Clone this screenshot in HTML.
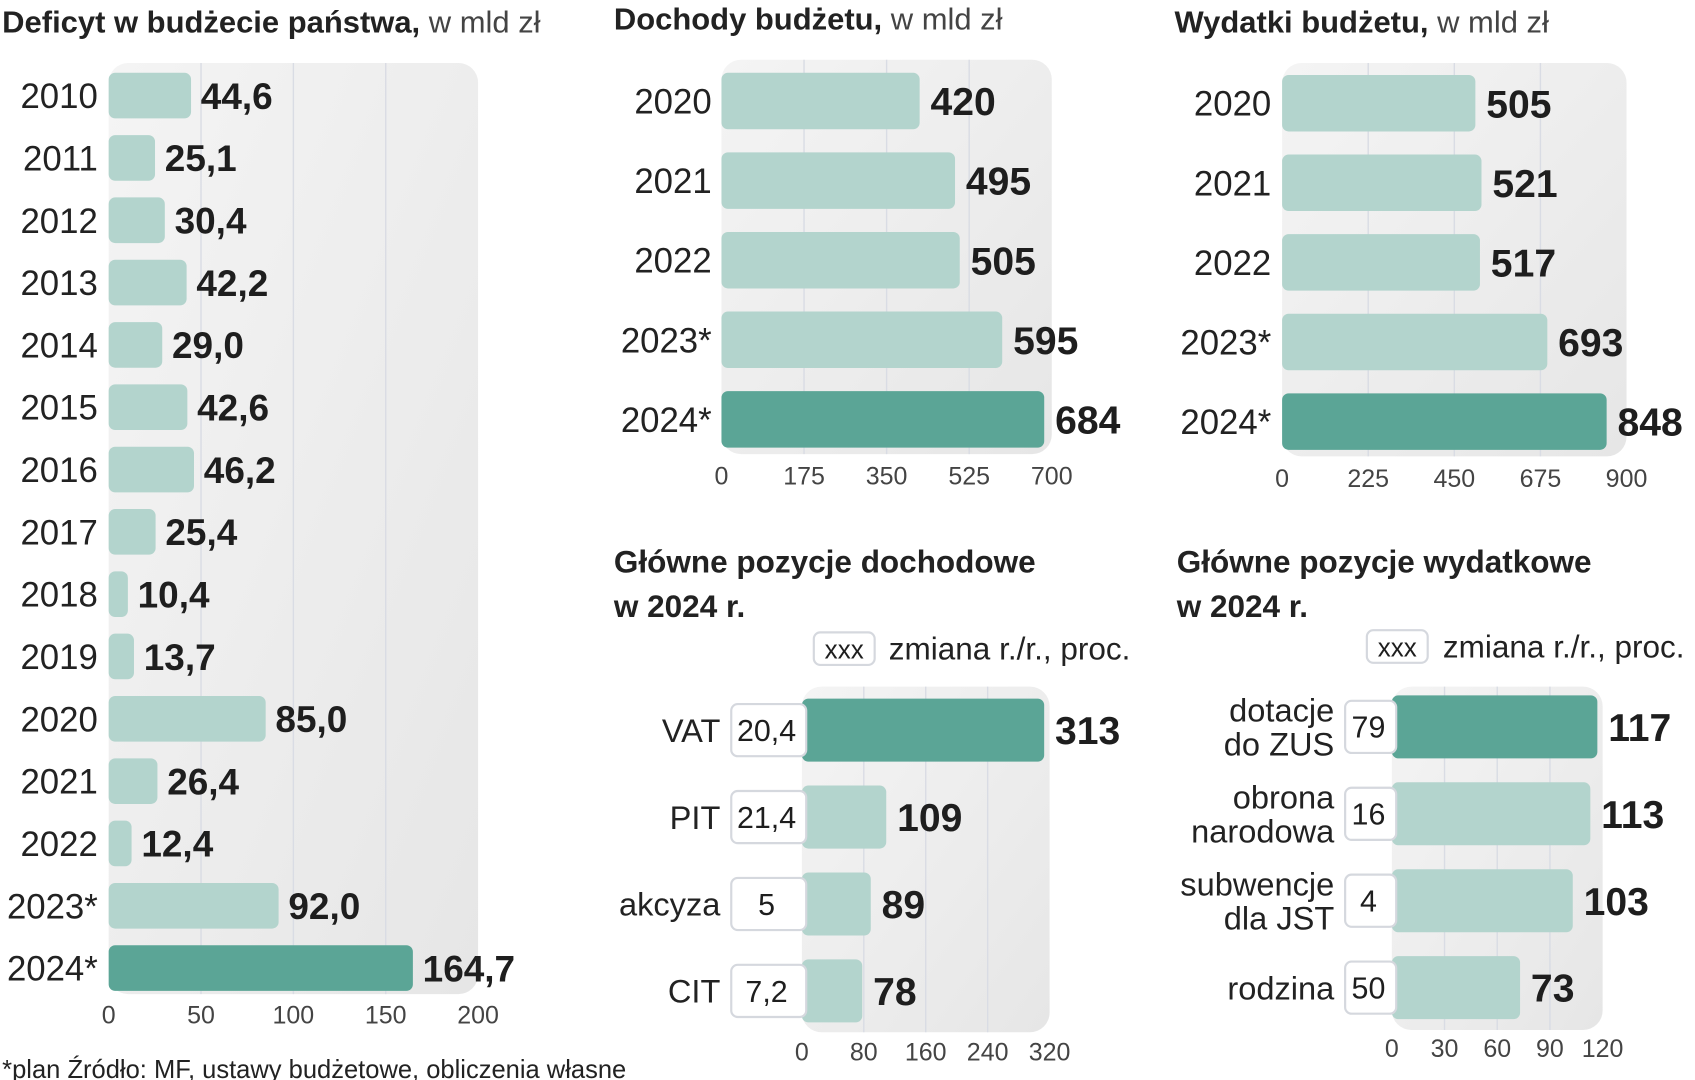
<!DOCTYPE html>
<html><head><meta charset="utf-8"><style>
html,body{margin:0;padding:0;background:#fff;width:1695px;height:1080px;overflow:hidden}
svg{display:block}
.t{font-family:"Liberation Sans",sans-serif;fill:#222}
.v{font-family:"Liberation Sans Narrow","Liberation Sans",sans-serif;font-weight:bold;fill:#1e1e1e}
.n{font-weight:normal}
.k{font-family:"Liberation Sans",sans-serif;fill:#444;font-size:23px}
</style></head><body>
<svg id="s" width="1695" height="1080" viewBox="0 0 1560 994" xmlns="http://www.w3.org/2000/svg">
<defs><linearGradient id="bg" x1="0" y1="0" x2="1" y2="1"><stop offset="0" stop-color="#f4f4f4"/><stop offset="1" stop-color="#e6e6e6"/></linearGradient></defs>
<text class="t" x="2" y="30" font-size="28.5"><tspan font-weight="bold">Deficyt w budżecie państwa,</tspan><tspan fill="#444"> w mld zł</tspan></text>
<text class="t" x="565" y="27" font-size="28.5"><tspan font-weight="bold">Dochody budżetu,</tspan><tspan fill="#444"> w mld zł</tspan></text>
<text class="t" x="1081" y="30" font-size="28.5"><tspan font-weight="bold">Wydatki budżetu,</tspan><tspan fill="#444"> w mld zł</tspan></text>
<text class="t" x="565" y="527" font-size="29" font-weight="bold">Główne pozycje dochodowe</text>
<text class="t" x="565" y="568" font-size="29" font-weight="bold">w 2024 r.</text>
<text class="t" x="1083" y="527" font-size="29" font-weight="bold">Główne pozycje wydatkowe</text>
<text class="t" x="1083" y="568" font-size="29" font-weight="bold">w 2024 r.</text>
<g>
<rect x="749" y="582" width="56" height="30" rx="6" fill="#fff" stroke="#d5d8de" stroke-width="2"/>
<text class="v n" x="777" y="606" font-size="24" text-anchor="middle">xxx</text>
<text class="t" x="818" y="607" font-size="29" fill="#333">zmiana r./r.,  proc.</text></g>
<g>
<rect x="1258" y="580" width="56" height="30" rx="6" fill="#fff" stroke="#d5d8de" stroke-width="2"/>
<text class="v n" x="1286" y="604" font-size="24" text-anchor="middle">xxx</text>
<text class="t" x="1328" y="605" font-size="29" fill="#333">zmiana r./r.,  proc.</text></g>
<text class="t" x="2" y="992" font-size="23.5" fill="#333">*plan  Źródło: MF, ustawy budżetowe, obliczenia własne</text>
</svg>
<script>
const defYears=["2010","2011","2012","2013","2014","2015","2016","2017","2018","2019","2020","2021","2022","2023*","2024*"];
const defValues=[44.6,25.1,30.4,42.2,29.0,42.6,46.2,25.4,10.4,13.7,85.0,26.4,12.4,92.0,164.7];
const defTicks=[0,50,100,150,200];
const revYears=["2020","2021","2022","2023*","2024*"];
const revValues=[420,495,505,595,684];
const revTicks=[0,175,350,525,700];
const expYears=["2020","2021","2022","2023*","2024*"];
const expValues=[505,521,517,693,848];
const expTicks=[0,225,450,675,900];
const incCats=[["VAT"],["PIT"],["akcyza"],["CIT"]];
const incValues=[313,109,89,78];
const incChange=["20,4","21,4","5","7,2"];
const incTicks=[0,80,160,240,320];
const spCats=[["dotacje","do ZUS"],["obrona","narodowa"],["subwencje","dla JST"],["rodzina"]];
const spValues=[117,113,103,73];
const spChange=["79","16","4","50"];
const spTicks=[0,30,60,90,120];

const NS="http://www.w3.org/2000/svg",S=document.getElementById('s');
function mk(tag,at,p){const e=document.createElementNS(NS,tag);for(const k in at)e.setAttribute(k,at[k]);(p||S).appendChild(e);return e;}
function fmt(v,dec){return dec?v.toFixed(1).replace('.',','):String(v);}
function chart(o){
  const g=mk('g',{});
  
  
  const x=v=>o.x0+(v-o.ticks[0])/(o.ticks[o.ticks.length-1]-o.ticks[0])*(o.x1-o.x0);
  const bg=mk('rect',{x:o.x0,y:o.bgTop,width:x(o.ticks[o.ticks.length-1])-o.x0,height:o.bgBot-o.bgTop,rx:18,fill:'url(#bg)'},g);
  
  
  o.ticks.forEach((t,i)=>{
    if(i>0&&i<o.ticks.length-1){const l=mk('line',{x1:x(t),x2:x(t),y1:o.bgTop,y2:o.bgBot,stroke:'#d9dce4','stroke-width':1.3},g);
      
      }
    const tx=mk('text',{class:'k',x:x(t),y:o.tickY,'text-anchor':'middle'},g);tx.textContent=t;
    
    
  });
  const n=o.values.length,step=(o.yLast-o.yFirst)/(n-1);
  o.values.forEach((v,i)=>{
    const cy=o.yFirst+i*step,dark=(i===o.dark);
    const b=mk('rect',{x:o.x0,y:cy-o.bh/2,width:x(v)-o.x0,height:o.bh,rx:6,fill:dark?'#5ba596':'#b3d4cd'},g);
    
    
    const vl=mk('text',{class:'v',x:x(v)+o.vGap,y:cy+o.vs*0.36,'font-size':o.vs},g);vl.textContent=fmt(v,o.dec);
    
    
    const lines=Array.isArray(o.cats[i])?o.cats[i]:[o.cats[i]];
    lines.forEach((ln,j)=>{
      const yy=cy+o.cs*0.36+(j-(lines.length-1)/2)*o.cs*1.05;
      const c=mk('text',{class:'t',x:o.labX,y:yy,'font-size':o.cs,'text-anchor':'end'},g);c.textContent=ln;
      
      
    });
    if(o.change){
      const bx=mk('rect',{x:o.boxX,y:cy-o.boxH/2,width:o.x0-o.boxX+4,height:o.boxH,rx:6,fill:'#fff',stroke:'#d5d8de','stroke-width':2},g);
      
      
      const ct=mk('text',{class:'v n',x:(o.boxX+o.x0)/2,y:cy+10,'font-size':28,'text-anchor':'middle'},g);ct.textContent=o.change[i];
      
      
    }
  });
}
chart({name:'deficit-chart',cats:defYears,values:defValues,ticks:defTicks,x0:100,x1:440,bgTop:58,bgBot:915,yFirst:88,yLast:891,bh:42,dark:14,dec:true,vs:34,vGap:9,cs:32,labX:90,tickY:942});
chart({name:'revenue-chart',cats:revYears,values:revValues,ticks:revTicks,x0:664,x1:968,bgTop:55,bgBot:418,yFirst:93,yLast:386,bh:52,dark:4,vs:36,vGap:10,cs:32,labX:655,tickY:446});
chart({name:'expenditure-chart',cats:expYears,values:expValues,ticks:expTicks,x0:1180,x1:1497,bgTop:58,bgBot:420,yFirst:95,yLast:388,bh:52,dark:4,vs:36,vGap:10,cs:32,labX:1170,tickY:448});
chart({name:'revenue-items-chart',cats:incCats,values:incValues,ticks:incTicks,x0:738,x1:966,bgTop:632,bgBot:950,yFirst:672,yLast:912,bh:58,dark:0,vs:36,vGap:10,cs:30,labX:663,tickY:976,change:incChange,boxX:673,boxH:48});
chart({name:'expenditure-items-chart',cats:spCats,values:spValues,ticks:spTicks,x0:1281,x1:1475,bgTop:632,bgBot:948,yFirst:669,yLast:909,bh:58,dark:0,vs:36,vGap:10,cs:30,labX:1228,tickY:973,change:spChange,boxX:1238,boxH:48});
</script>
</body></html>
